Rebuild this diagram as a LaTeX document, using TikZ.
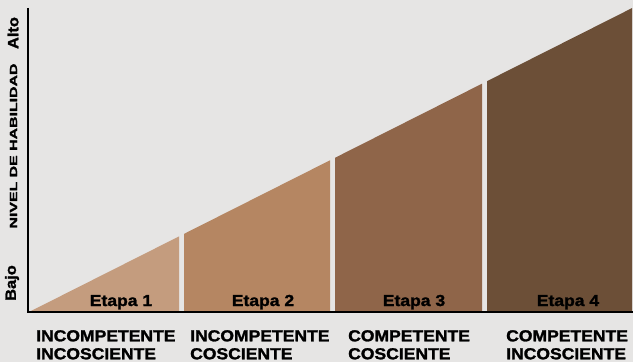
\documentclass[tikz,border=0pt]{standalone}
\usepackage{fontspec}
\setmainfont{Liberation Sans}
\newfontfamily\blk[FakeStretch=1.1,FakeBold=1.6]{Liberation Sans}
\usetikzlibrary{positioning}

\definecolor{bgGray}{HTML}{E6E5E4}
\definecolor{stageA}{HTML}{C49C7E}
\definecolor{stageB}{HTML}{B58662}
\definecolor{stageC}{HTML}{8F6549}
\definecolor{stageD}{HTML}{6C4F37}

\begin{document}
\begin{tikzpicture}[x=1bp,y=1bp,
	Bg/.style={fill=bgGray},
	Axis/.style={draw=black,line width=2.6bp},
	Phase/.style={font=\blk\bfseries\fontsize{16}{18}\selectfont,inner sep=0pt,anchor=base},
	Caption/.style={font=\blk\bfseries\fontsize{16}{18}\selectfont,align=left,inner sep=0pt,anchor=north west},
	AxisLbl/.style={font=\blk\bfseries\fontsize{15}{15}\selectfont,rotate=90,inner sep=0pt},
]
	\fill[Bg] (0,0) rectangle (633,362);
	\useasboundingbox (0,0) rectangle (633,362);

	% the four stages under the rising line
	\foreach \a/\b/\col in {29/179/stageA,184/330/stageB,335/482/stageC,487/632/stageD}
		\fill[\col] (\a,50) -- (\b,50) -- (\b,{50+(\b-29)*0.504}) -- (\a,{50+(\a-29)*0.504}) -- cycle;

	\coordinate (top) at (28,354);
	\coordinate (right) at (633,50);
	\draw[Axis] (top) |- (right);

	\node[Phase] (e1) at (121,56) {Etapa 1};
	\node[Phase] (e2) at (263,56) {Etapa 2};
	\node[Phase] (e3) at (414,56) {Etapa 3};
	\node[Phase] (e4) at (568,56) {Etapa 4};

	\node[Caption] (c1) at (36,32) {INCOMPETENTE\\INCOSCIENTE};
	\node[Caption] (c2) at (190,32) {INCOMPETENTE\\COSCIENTE};
	\node[Caption] (c3) at (348,32) {COMPETENTE\\COSCIENTE};
	\node[Caption] (c4) at (506,32) {COMPETENTE\\INCOSCIENTE};

	\node[AxisLbl] (alto) at (13,329) {Alto};
	\node[AxisLbl,font=\blk\bfseries\fontsize{10.5}{11}\selectfont,xscale=1.38] (nivel) at (13.5,216) {NIVEL DE HABILIDAD};
	\node[AxisLbl] (bajo) at (12,79) {Bajo};
\end{tikzpicture}
\end{document}
